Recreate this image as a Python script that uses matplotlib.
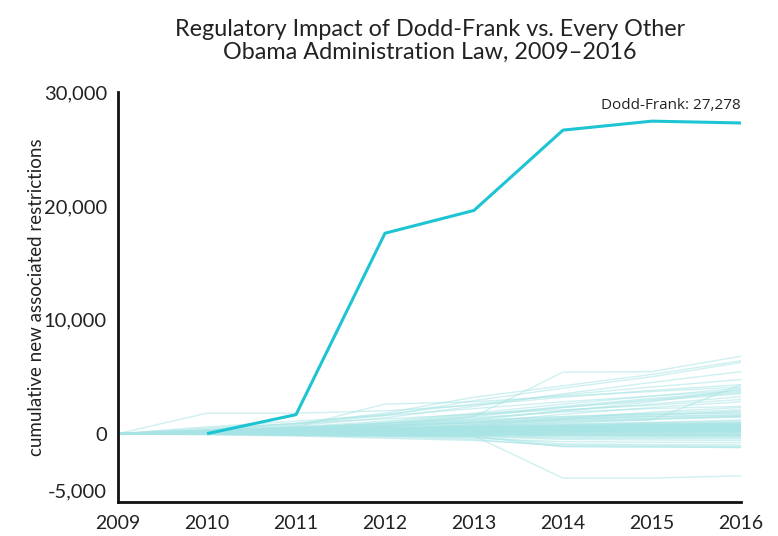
import matplotlib
matplotlib.use("Agg")
import matplotlib.pyplot as plt
import numpy as np

years = [2009, 2010, 2011, 2012, 2013, 2014, 2015, 2016]

dodd_frank_years = [2010, 2011, 2012, 2013, 2014, 2015, 2016]
dodd_frank = [0, 1670, 17600, 19600, 26650, 27440, 27278]

high_laws = [
    [0, 100, 300, 700, 1500, 5400, 5450, 6800],
    [0, 400, 900, 1800, 3200, 4200, 5200, 6400],
    [0, 300, 800, 1600, 2900, 4000, 5000, 6250],
    [0, 200, 700, 1400, 2400, 3500, 4500, 5450],
    [0, 300, 900, 1700, 2600, 3400, 4100, 4750],
    [0, 1800, 1800, 2000, 2500, 3200, 3800, 4300],
    [0, 200, 600, 2600, 2800, 3300, 3700, 4100],
    [0, 100, 300, 700, 1200, 2000, 2800, 3900],
    [0, 100, 400, 900, 1600, 2400, 3100, 3700],
    [0, 50, 200, 400, 700, 1000, 1200, 4300],
    [0, 200, 500, 1000, 1700, 2300, 2900, 3500],
    [0, 150, 400, 800, 1300, 2000, 2600, 3250],
    [0, 100, 300, 600, 1000, 1700, 2300, 2800],
    [0, 200, 500, 900, 1400, 1900, 2200, 2400],
    [0, 500, 900, 1300, 1700, 2100, 2500, 3000],
    [0, 600, 1100, 1600, 2200, 2800, 3300, 3800],
    [0, 150, 450, 900, 1500, 2300, 3000, 3600],
    [0, 250, 600, 1100, 1800, 2600, 3300, 4000],
]

mid_laws = [
    [0, 100, 300, 600, 1000, 1400, 1700, 1900],
    [0, 150, 400, 700, 1000, 1300, 1500, 1700],
    [0, 100, 250, 500, 800, 1100, 1300, 1500],
    [0, 300, 600, 900, 1200, 1500, 1800, 2100],
    [0, 80, 200, 450, 800, 1300, 1900, 2300],
    [0, 200, 400, 700, 1100, 1500, 1700, 1800],
    [0, 50, 150, 350, 700, 1200, 1500, 1600],
    [0, 120, 300, 550, 900, 1300, 1600, 2000],
    [0, 60, 200, 400, 650, 950, 1250, 1450],
    [0, 250, 500, 750, 950, 1150, 1350, 1550],
]

band_laws = [
    [0, 100, 250, 450, 650, 850, 1000, 1200],
    [0, 80, 200, 400, 600, 800, 950, 1100],
    [0, 60, 180, 350, 550, 750, 900, 1000],
    [0, 50, 150, 300, 500, 700, 850, 950],
    [0, 90, 200, 350, 500, 650, 800, 900],
    [0, 40, 120, 260, 420, 600, 750, 850],
    [0, 70, 160, 300, 450, 600, 700, 800],
    [0, 30, 100, 220, 380, 520, 650, 750],
    [0, 60, 150, 280, 400, 520, 620, 700],
    [0, 40, 110, 220, 340, 460, 570, 650],
    [0, 50, 120, 230, 330, 430, 520, 600],
    [0, 20, 80, 170, 280, 380, 480, 550],
    [0, 40, 100, 190, 280, 370, 440, 500],
    [0, 30, 80, 160, 240, 320, 390, 450],
    [0, 20, 70, 140, 210, 280, 350, 400],
    [0, 30, 70, 130, 190, 250, 310, 350],
    [0, 10, 50, 100, 160, 220, 270, 300],
    [0, 20, 50, 90, 140, 190, 230, 250],
    [0, 10, 40, 80, 120, 160, 190, 200],
    [0, 10, 30, 60, 90, 120, 140, 150],
    [0, 5, 20, 40, 60, 80, 95, 100],
    [0, 5, 10, 20, 30, 40, 45, 50],
    [0, 0, 5, 10, 10, 5, 0, 0],
    [0, 0, -5, -10, -20, -30, -40, -50],
    [0, -5, -15, -30, -50, -70, -90, -100],
    [0, -10, -30, -60, -90, -120, -140, -150],
    [0, -10, -40, -80, -120, -160, -190, -200],
    [0, -20, -50, -100, -150, -200, -230, -250],
    [0, 200, 350, 500, 600, 700, 800, 900],
    [0, 150, 300, 420, 520, 600, 680, 720],
    [0, 250, 400, 500, 580, 650, 700, 750],
    [0, 120, 250, 380, 480, 560, 620, 660],
    [0, 180, 320, 400, 450, 500, 520, 550],
    [0, 300, 450, 550, 620, 680, 720, 780],
    [0, 100, 180, 260, 330, 390, 440, 480],
    [0, 60, 120, 180, 230, 280, 320, 340],
    [0, 140, 260, 340, 400, 450, 480, 500],
    [0, 30, 60, 110, 160, 210, 250, 280],
    [0, 50, 110, 200, 300, 420, 540, 680],
    [0, 20, 60, 130, 220, 330, 450, 580],
    [0, 80, 170, 270, 370, 470, 560, 640],
    [0, 40, 90, 150, 220, 290, 360, 420],
    [0, 15, 45, 95, 150, 210, 270, 330],
    [0, 70, 140, 210, 270, 320, 360, 380],
    [0, 25, 55, 85, 115, 140, 160, 180],
    [0, -5, -20, -45, -75, -110, -140, -170],
    [0, 35, 90, 170, 260, 360, 460, 560],
    [0, 110, 220, 330, 430, 530, 620, 700],
]

negative_laws = [
    [0, -50, -150, -300, -500, -1100, -1150, -1230],
    [0, -100, -200, -400, -600, -1000, -1050, -1100],
    [0, 0, -100, -200, -300, -900, -950, -1000],
    [0, -50, -100, -200, -400, -700, -750, -800],
    [0, 0, -50, -150, -250, -500, -550, -600],
    [0, -20, -60, -100, -200, -400, -420, -450],
    [0, -30, -80, -150, -250, -1150, -1180, -1200],
    [0, -10, -40, -90, -150, -300, -330, -350],
    [0, -50, -150, -200, -200, -3900, -3900, -3700],
]

other_laws = high_laws + mid_laws + band_laws + negative_laws

plt.rcParams['font.family'] = ['Lato', 'DejaVu Sans']

fig = plt.figure(figsize=(7.78, 5.36), dpi=100)
ax = fig.add_axes([0.1517, 0.0634, 0.8007, 0.765])

for vals in other_laws:
    ax.plot(years, vals, color='#a8e4e5', alpha=0.55, lw=1.0, solid_capstyle='butt', zorder=1)

ax.plot(dodd_frank_years, dodd_frank, color='#1dc4d2', lw=2.2, zorder=3, solid_capstyle='butt')

ax.set_xlim(2009, 2016)
ax.set_ylim(-6000, 30000)
ax.set_xticks(years)
ax.set_xticklabels([str(y) for y in years], fontsize=14, color='#222222')
ax.set_yticks([30000, 20000, 10000, 0, -5000])
ax.set_yticklabels(['30,000', '20,000', '10,000', '0', '-5,000'], fontsize=14.5, color='#222222')
ax.tick_params(axis='y', length=0, pad=8)
ax.tick_params(axis='x', length=0, pad=9)

for s in ['top', 'right']:
    ax.spines[s].set_visible(False)
for s in ['left', 'bottom']:
    ax.spines[s].set_linewidth(2)
    ax.spines[s].set_color('#111111')

ax.set_ylabel('cumulative new associated restrictions', fontsize=13.5, color='#222222', labelpad=-1)

ax.annotate('Dodd-Frank: 27,278', xy=(2016, dodd_frank[-1]), xytext=(0, 7),
            textcoords='offset points', ha='right', va='bottom', fontsize=11,
            color='#222222', family='Open Sans')

fig.text(0.553, 0.924, 'Regulatory Impact of Dodd-Frank vs. Every Other\nObama Administration Law, 2009\u20132016',
         ha='center', va='center', fontsize=16.8, color='#222222', linespacing=1.1)

fig.savefig('out.png', dpi=100)
